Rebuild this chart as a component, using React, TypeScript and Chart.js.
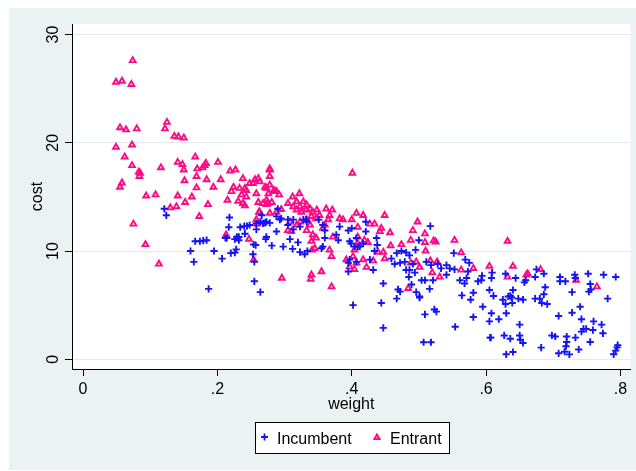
import React, { useEffect, useRef } from 'react';
import { Chart, registerables } from 'chart.js';

Chart.register(...registerables);

// [weight, cost]
const incumbent: [number, number][] = [
  [0.121, 13.9], [0.124, 13.3], [0.218, 13.1], [0.217, 12.2], [0.234, 12.2], [0.240, 12.3], [0.244, 12.3], [0.241, 11.6],
  [0.167, 10.9], [0.174, 10.9], [0.179, 10.95], [0.184, 11.0], [0.160, 10.0], [0.195, 10.0], [0.165, 9.0], [0.207, 9.3],
  [0.220, 9.8], [0.226, 9.85], [0.228, 10.15], [0.212, 11.2], [0.226, 11.1], [0.230, 11.2], [0.232, 11.0], [0.232, 11.3],
  [0.258, 12.0], [0.254, 10.6], [0.253, 9.7], [0.255, 9.0], [0.255, 7.2], [0.187, 6.5], [0.264, 6.2], [0.266, 13.3],
  [0.271, 12.6], [0.278, 12.6], [0.264, 12.7], [0.288, 13.2], [0.295, 13.0], [0.290, 13.9], [0.273, 11.3], [0.272, 11.1],
  [0.288, 11.8], [0.281, 10.5], [0.298, 10.4], [0.308, 11.1], [0.312, 10.2], [0.320, 10.8], [0.323, 9.9], [0.330, 9.7],
  [0.334, 10.0], [0.313, 12.9], [0.332, 12.9], [0.323, 12.25], [0.351, 12.9], [0.360, 11.9], [0.360, 11.2], [0.357, 10.4],
  [0.355, 10.25], [0.377, 11.5], [0.380, 11.0], [0.382, 12.25], [0.395, 11.9], [0.400, 12.1], [0.397, 10.9], [0.407, 11.2],
  [0.409, 10.4], [0.395, 8.9], [0.395, 8.1], [0.257, 10.55], [0.402, 5.0], [0.421, 12.7], [0.421, 11.8], [0.399, 10.7],
  [0.404, 10.4], [0.412, 10.4], [0.417, 10.7], [0.437, 11.2], [0.438, 10.55], [0.434, 10.0], [0.427, 9.2], [0.432, 8.25],
  [0.397, 9.2], [0.407, 9.0], [0.459, 9.3], [0.464, 8.8], [0.472, 8.9], [0.467, 9.8], [0.474, 10.0], [0.481, 9.85],
  [0.479, 9.0], [0.486, 9.6], [0.491, 8.8], [0.486, 8.25], [0.481, 8.25], [0.494, 8.0], [0.485, 7.6], [0.489, 6.9],
  [0.496, 6.2], [0.501, 5.8], [0.504, 7.3], [0.509, 7.3], [0.516, 6.5], [0.521, 7.3], [0.500, 11.0], [0.495, 10.1],
  [0.517, 12.3], [0.511, 9.0], [0.518, 8.7], [0.528, 8.8], [0.533, 8.4], [0.541, 8.7], [0.541, 7.8], [0.546, 8.4],
  [0.553, 8.3], [0.561, 7.3], [0.571, 7.5], [0.568, 7.0], [0.573, 8.1], [0.575, 8.9], [0.569, 9.2], [0.552, 9.8],
  [0.588, 7.2], [0.593, 7.3], [0.594, 7.7], [0.609, 8.0], [0.608, 7.5], [0.605, 6.4], [0.611, 5.85], [0.581, 6.15],
  [0.577, 5.5], [0.564, 5.9], [0.595, 4.85], [0.608, 4.25], [0.605, 3.5], [0.606, 2.0], [0.581, 3.9], [0.554, 3.0],
  [0.523, 4.6], [0.526, 4.4], [0.509, 4.15], [0.444, 5.2], [0.447, 7.0], [0.447, 2.9], [0.507, 1.57], [0.518, 1.57],
  [0.467, 5.6], [0.469, 6.45], [0.472, 6.25], [0.501, 5.7], [0.629, 7.9], [0.644, 7.5], [0.659, 7.3], [0.657, 7.1],
  [0.675, 8.3], [0.673, 7.6], [0.686, 7.9], [0.710, 7.6], [0.710, 7.2], [0.718, 7.2], [0.732, 7.8], [0.733, 7.5],
  [0.752, 7.9], [0.775, 7.8], [0.793, 7.6], [0.755, 6.95], [0.753, 6.25], [0.756, 6.45], [0.728, 6.2], [0.781, 5.6],
  [0.688, 6.65], [0.686, 6.0], [0.673, 5.6], [0.680, 5.6], [0.683, 5.2], [0.691, 5.1], [0.640, 6.4], [0.636, 5.85],
  [0.638, 5.7], [0.633, 5.8], [0.625, 5.5], [0.629, 5.1], [0.639, 5.2], [0.648, 5.6], [0.655, 5.5], [0.619, 3.7],
  [0.630, 4.25], [0.650, 3.2], [0.708, 4.0], [0.728, 4.3], [0.740, 4.85], [0.742, 3.7], [0.760, 3.5], [0.772, 3.2],
  [0.745, 2.8], [0.742, 2.55], [0.749, 2.8], [0.759, 2.7], [0.774, 2.4], [0.755, 1.6], [0.698, 2.2], [0.703, 2.1],
  [0.720, 2.1], [0.720, 1.6], [0.719, 1.2], [0.733, 2.0], [0.738, 0.9], [0.708, 0.55], [0.717, 0.7], [0.724, 0.45],
  [0.682, 1.07], [0.607, 2.0], [0.627, 2.2], [0.636, 1.9], [0.650, 2.2], [0.651, 1.8], [0.655, 1.5], [0.630, 0.46],
  [0.640, 0.67], [0.796, 1.3], [0.795, 1.1], [0.793, 0.8], [0.790, 0.46], [0.214, 11.2], [0.229, 11.3], [0.248, 12.4],
  [0.258, 12.55], [0.268, 12.55], [0.273, 12.7], [0.293, 12.9], [0.305, 12.9], [0.328, 12.9], [0.333, 12.7], [0.357, 12.4],
  [0.305, 12.4], [0.313, 12.0],
];

const entrant: [number, number][] = [
  [0.074, 27.6], [0.049, 25.6], [0.058, 25.7], [0.072, 25.4], [0.125, 21.9], [0.122, 21.3], [0.055, 21.4], [0.064, 21.2],
  [0.080, 21.3], [0.136, 20.6], [0.142, 20.55], [0.150, 20.45], [0.049, 19.6], [0.073, 19.8], [0.062, 18.7], [0.073, 17.9],
  [0.083, 17.3], [0.085, 17.2], [0.084, 16.9], [0.058, 16.3], [0.055, 15.9], [0.094, 15.1], [0.108, 15.2], [0.116, 17.7],
  [0.141, 18.2], [0.148, 18.0], [0.150, 17.5], [0.167, 18.7], [0.170, 17.6], [0.178, 17.7], [0.183, 18.1], [0.181, 17.9],
  [0.201, 18.2], [0.169, 16.9], [0.184, 16.6], [0.194, 15.9], [0.205, 16.6], [0.151, 16.5], [0.169, 15.85], [0.141, 15.1],
  [0.162, 15.0], [0.152, 14.5], [0.130, 14.0], [0.139, 14.1], [0.173, 13.2], [0.186, 14.3], [0.219, 17.4], [0.227, 17.5],
  [0.224, 15.9], [0.221, 15.5], [0.215, 14.7], [0.231, 14.6], [0.075, 12.5], [0.093, 10.6], [0.113, 8.8], [0.213, 11.5],
  [0.247, 11.1], [0.258, 12.9], [0.259, 12.5], [0.262, 13.6], [0.254, 9.2], [0.278, 17.5], [0.278, 16.9], [0.238, 16.7],
  [0.248, 16.25], [0.256, 16.6], [0.261, 16.7], [0.263, 16.4], [0.233, 15.8], [0.241, 15.8], [0.243, 15.6], [0.236, 15.2],
  [0.243, 15.0], [0.238, 14.4], [0.241, 14.2], [0.258, 15.3], [0.261, 14.5], [0.273, 15.8], [0.278, 16.1], [0.276, 15.3],
  [0.284, 15.6], [0.288, 15.5], [0.292, 15.2], [0.281, 14.5], [0.273, 14.3], [0.278, 13.5], [0.288, 13.6], [0.295, 13.85],
  [0.263, 13.6], [0.305, 14.4], [0.312, 15.0], [0.322, 15.3], [0.318, 14.55], [0.313, 14.1], [0.323, 14.1], [0.328, 14.55],
  [0.333, 14.25], [0.318, 13.8], [0.325, 13.6], [0.332, 13.8], [0.338, 13.9], [0.342, 13.6], [0.348, 13.8], [0.352, 13.3],
  [0.362, 13.9], [0.371, 13.8], [0.367, 13.3], [0.365, 12.9], [0.347, 13.0], [0.340, 13.2], [0.333, 12.9], [0.323, 12.7],
  [0.308, 12.7], [0.305, 11.9], [0.318, 12.4], [0.310, 11.8], [0.338, 12.4], [0.333, 11.9], [0.342, 11.5], [0.347, 11.2],
  [0.340, 10.9], [0.345, 10.25], [0.341, 10.1], [0.357, 12.1], [0.360, 12.4], [0.372, 11.3], [0.370, 9.5], [0.367, 10.1],
  [0.382, 13.0], [0.387, 12.9], [0.400, 12.9], [0.407, 13.5], [0.409, 12.2], [0.404, 10.1], [0.402, 9.5], [0.407, 8.9],
  [0.397, 8.55], [0.392, 9.2], [0.355, 8.1], [0.370, 6.7], [0.340, 7.8], [0.339, 7.4], [0.296, 7.5], [0.401, 17.2],
  [0.417, 13.3], [0.449, 13.3], [0.427, 12.5], [0.434, 12.5], [0.444, 12.1], [0.442, 11.8], [0.457, 11.7], [0.409, 11.3],
  [0.419, 11.0], [0.424, 10.8], [0.409, 10.7], [0.439, 9.9], [0.447, 9.9], [0.449, 9.3], [0.458, 10.5], [0.474, 10.6],
  [0.417, 9.2], [0.432, 9.1], [0.422, 8.5], [0.404, 8.3], [0.498, 12.7], [0.491, 11.9], [0.509, 11.6], [0.488, 11.0],
  [0.509, 10.8], [0.522, 10.95], [0.525, 10.85], [0.510, 10.0], [0.553, 11.0], [0.563, 9.85], [0.488, 8.9], [0.496, 9.0],
  [0.501, 8.5], [0.517, 9.1], [0.527, 9.0], [0.520, 8.0], [0.531, 7.6], [0.484, 6.55], [0.563, 8.25], [0.581, 8.4],
  [0.605, 8.6], [0.632, 10.9], [0.640, 8.6], [0.632, 7.6], [0.660, 7.8], [0.662, 7.9], [0.681, 8.3], [0.734, 7.3],
  [0.765, 6.7], [0.268, 14.4], [0.276, 14.4], [0.273, 14.7], [0.278, 17.6], [0.271, 15.9], [0.286, 15.5], [0.253, 16.25],
];

const seriesLabels = ['Incumbent', 'Entrant'];
const xTicks = [0, 0.2, 0.4, 0.6, 0.8];
const yTicks = [0, 10, 20, 30];
const xTitle = 'weight';
const yTitle = 'cost';

const BLUE = '#1414f5';
const PINK = '#ff0a86';
const FONT = '"Liberation Sans", Arial, Helvetica, sans-serif';

const fmt = (v: number) => (v === 0 ? '0' : String(v).replace(/^0\./, '.'));

function drawPlus(ctx: CanvasRenderingContext2D, x: number, y: number, r: number, color: string, w: number) {
  ctx.save();
  ctx.strokeStyle = color;
  ctx.lineWidth = w;
  ctx.beginPath();
  ctx.moveTo(x - r, y);
  ctx.lineTo(x + r, y);
  ctx.moveTo(x, y - r);
  ctx.lineTo(x, y + r);
  ctx.stroke();
  ctx.restore();
}

function drawTri(ctx: CanvasRenderingContext2D, x: number, y: number, r: number, color: string, w: number) {
  ctx.save();
  ctx.strokeStyle = color;
  ctx.lineWidth = w;
  ctx.beginPath();
  for (let i = 0; i < 3; i++) {
    const a = (i * 2 * Math.PI) / 3;
    const px = x + Math.sin(a) * r;
    const py = y - Math.cos(a) * r;
    if (i === 0) ctx.moveTo(px, py);
    else ctx.lineTo(px, py);
  }
  ctx.closePath();
  ctx.stroke();
  ctx.restore();
}

const plotBg = {
  id: 'plotBg',
  beforeDraw(chart: any) {
    const { ctx, chartArea } = chart;
    ctx.save();
    ctx.fillStyle = '#ffffff';
    ctx.fillRect(chartArea.left, chartArea.top, chartArea.right - chartArea.left, chartArea.bottom - chartArea.top);
    ctx.restore();
  },
};

const boxLegend = {
  id: 'boxLegend',
  afterDraw(chart: any) {
    const { ctx } = chart;
    const bx = 246.5, by = 414.5, bw = 194, bh = 31;
    ctx.save();
    ctx.fillStyle = '#ffffff';
    ctx.fillRect(bx, by, bw, bh);
    ctx.strokeStyle = '#000';
    ctx.lineWidth = 1;
    ctx.strokeRect(bx, by, bw, bh);
    drawPlus(ctx, 255.5, 429, 3.5, BLUE, 1.8);
    drawTri(ctx, 368, 429.5, 3.0, PINK, 1.9);
    ctx.fillStyle = '#000';
    ctx.font = `16px ${FONT}`;
    ctx.textBaseline = 'alphabetic';
    ctx.textAlign = 'left';
    ctx.fillText(chart.data.datasets[0].label, 268, 435.5);
    ctx.fillText(chart.data.datasets[1].label, 381, 435.5);
    ctx.restore();
  },
};

export default function App() {
  const ref = useRef<HTMLCanvasElement | null>(null);

  useEffect(() => {
    if (!ref.current) return;
    const chart = new Chart(ref.current, {
      type: 'scatter',
      data: {
        datasets: [
          {
            label: seriesLabels[0],
            data: incumbent.map(([x, y]) => ({ x, y })),
            pointStyle: 'cross',
            radius: 3.6,
            borderWidth: 1.9,
            borderColor: BLUE,
            backgroundColor: BLUE,
          },
          {
            label: seriesLabels[1],
            data: entrant.map(([x, y]) => ({ x, y })),
            pointStyle: 'triangle',
            radius: 3.3,
            borderWidth: 1.9,
            borderColor: PINK,
            backgroundColor: 'rgba(255,255,255,0)',
          },
        ],
      },
      options: {
        responsive: false,
        animation: false,
        devicePixelRatio: 1,
        layout: { padding: { left: 0, top: 16, right: 5, bottom: 51 } },
        plugins: {
          legend: { display: false },
          tooltip: { enabled: false },
        },
        elements: { point: { hoverRadius: 3.5 } },
        scales: {
          x: {
            type: 'linear',
            min: -0.0164,
            max: 0.815,
            afterBuildTicks: (s: any) => {
              s.ticks = xTicks.map((v) => ({ value: v }));
            },
            afterFit: (s: any) => {
              s.height = 50;
            },
            ticks: {
              callback: (v: any) => fmt(Number(v)),
              color: '#000',
              font: { family: FONT, size: 16 },
              padding: 4,
              maxRotation: 0,
              minRotation: 0,
            },
            grid: { drawOnChartArea: false, drawTicks: true, tickLength: 7, tickColor: '#000', tickWidth: 1 },
            border: { display: true, color: '#000', width: 1 },
            title: { display: true, text: xTitle, color: '#000', font: { family: FONT, size: 16 }, padding: { top: 0, bottom: 5 } },
          },
          y: {
            type: 'linear',
            min: -0.9,
            max: 30.97,
            afterBuildTicks: (s: any) => {
              s.ticks = yTicks.map((v) => ({ value: v }));
            },
            afterFit: (s: any) => {
              s.width = 63;
            },
            ticks: {
              callback: (v: any) => fmt(Number(v)),
              color: '#000',
              font: { family: FONT, size: 16 },
              padding: 3,
              minRotation: 90,
              maxRotation: 90,
              crossAlign: 'center',
            },
            grid: { color: '#e3ebed', lineWidth: 1, drawTicks: true, tickLength: 7, tickColor: '#000', tickWidth: 1 },
            border: { display: true, color: '#000', width: 1 },
            title: { display: true, text: yTitle, color: '#000', font: { family: FONT, size: 16 }, padding: { top: 19, bottom: 0 } },
          },
        },
      } as any,
      plugins: [plotBg, boxLegend],
    });
    return () => chart.destroy();
  }, []);

  return (
    <div style={{ position: 'fixed', left: 0, top: 0, width: 636, height: 471, background: '#ffffff', overflow: 'hidden' }}>
      <div style={{ position: 'absolute', left: 9, top: 8, width: 627, height: 462, background: '#eaf2f3' }}>
        <canvas ref={ref} width={627} height={462} style={{ display: 'block', width: 627, height: 462 }} />
      </div>
    </div>
  );
}
